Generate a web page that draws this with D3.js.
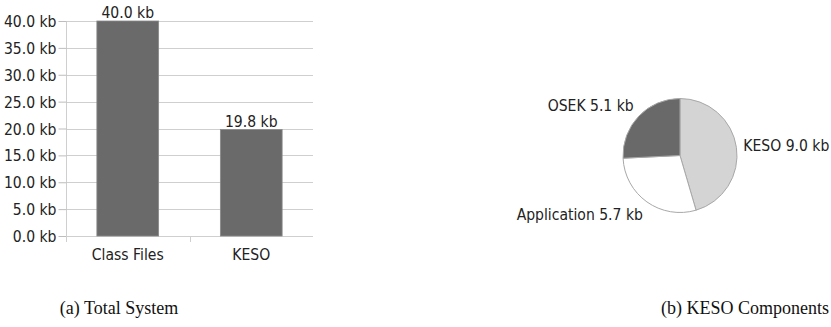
<!DOCTYPE html>
<html>
<head>
<meta charset="utf-8">
<script src="https://cdn.jsdelivr.net/npm/d3@7"></script>
<style>
  html, body { margin: 0; padding: 0; background: #fff; }
  svg { display: block; }
</style>
</head>
<body>
<svg id="chart" width="831" height="327"></svg>
<script>
// (a) total system size
const barCategories = ["Class Files", "KESO"];
const barValues = [40.0, 19.8];
const yTicks = [0, 5, 10, 15, 20, 25, 30, 35, 40];

// (b) KESO component breakdown
const pieLabels = ["KESO", "Application", "OSEK"];
const pieValues = [9.0, 5.7, 5.1];
const pieColors = ["#d4d4d4", "#ffffff", "#696969"];

const captions = ["(a) Total System", "(b) KESO Components"];

const svg = d3.select("#chart");
const sans = "DejaVu Sans, sans-serif";
const fs = 16;          // chart text size
const squeeze = 0.875;  // narrow glyph width of the chart text
const fmt = v => d3.format(".1f")(v) + " kb";

// places a text node at (x, y) with horizontally narrowed glyphs
function placeText(sel, x, y, anchor) {
  sel.attr("x", 0).attr("y", 0)
    .attr("transform", `translate(${x},${y}) scale(${squeeze},1)`)
    .attr("text-anchor", anchor)
    .attr("font-family", sans).attr("font-size", fs).attr("fill", "#222");
}

// ---- bar chart ----
const plot = { left: 66, right: 313, top: 21, bottom: 236 };
const x = d3.scaleBand().domain(barCategories).range([plot.left, plot.right]);
const y = d3.scaleLinear().domain([0, 40]).range([plot.bottom, plot.top]);
const barW = x.bandwidth() * 0.5;

const g = svg.append("g");

// horizontal grid lines
g.selectAll("line.grid").data(yTicks).join("line")
  .attr("x1", plot.left).attr("x2", plot.right)
  .attr("y1", d => Math.round(y(d)) + 0.5).attr("y2", d => Math.round(y(d)) + 0.5)
  .attr("stroke", "#cfcfcf").attr("stroke-width", 1);

// y axis
const yAxis = d3.axisLeft(y).tickValues(yTicks).tickFormat(fmt).tickSize(8);
const ya = g.append("g").attr("transform", `translate(${plot.left + 0.5},0)`).call(yAxis);
ya.select(".domain").attr("stroke", "#cfcfcf").attr("d", `M0,${plot.top}V${plot.bottom + 6}`);
ya.selectAll(".tick line").attr("stroke", "#bdbdbd");
ya.selectAll(".tick text").each(function() {
  d3.select(this).attr("dy", "0.35em").call(placeText, -10, 0, "end");
});

// x axis ticks at band boundaries
g.selectAll("line.xt").data(barCategories).join("line")
  .attr("x1", d => Math.round(x(d)) + 0.5).attr("x2", d => Math.round(x(d)) + 0.5)
  .attr("y1", plot.bottom).attr("y2", plot.bottom + 6)
  .attr("stroke", "#cfcfcf");
g.selectAll("text.xl").data(barCategories).join("text")
  .each(function(d) {
    d3.select(this).call(placeText, x(d) + x.bandwidth() / 2, plot.bottom + 24, "middle");
  })
  .text(d => d);

// bars
g.selectAll("rect.bar").data(barValues).join("rect")
  .attr("x", (d, i) => x(barCategories[i]) + (x.bandwidth() - barW) / 2)
  .attr("y", d => y(d))
  .attr("width", barW)
  .attr("height", d => y(0) - y(d))
  .attr("fill", "#6a6a6a").attr("stroke", "#8a8a8a").attr("stroke-width", 0.8);

// value labels
g.selectAll("text.val").data(barValues).join("text")
  .each(function(d, i) {
    d3.select(this).call(placeText, x(barCategories[i]) + x.bandwidth() / 2, y(d) - 3, "middle");
  })
  .text(d => fmt(d));

// ---- pie chart ----
const cx = 680, cy = 155.5, R = 57;
const pie = d3.pie().sort(null).value(d => d)(pieValues);
const arc = d3.arc().innerRadius(0).outerRadius(R);
const pg = svg.append("g").attr("transform", `translate(${cx},${cy})`);
pg.selectAll("path").data(pie).join("path")
  .attr("d", arc)
  .attr("fill", (d, i) => pieColors[i])
  .attr("stroke", "#a8a8a8").attr("stroke-width", 1);

// labels sit on an ellipse around the pie, outward of each slice's middle
const labelRx = 64, labelRy = 72;
pg.selectAll("text").data(pie).join("text")
  .each(function(d) {
    const a = (d.startAngle + d.endAngle) / 2;
    const lx = Math.sin(a) * labelRx, ly = -Math.cos(a) * labelRy;
    d3.select(this).attr("dy", "0.35em").call(placeText, lx, ly, lx < 0 ? "end" : "start");
  })
  .text((d, i) => `${pieLabels[i]} ${fmt(pieValues[i])}`);

// ---- captions ----
svg.selectAll("text.cap").data(captions).join("text")
  .attr("x", (d, i) => i === 0 ? 119 : 745)
  .attr("y", 314)
  .attr("text-anchor", "middle")
  .attr("font-family", "Liberation Serif, Times New Roman, serif")
  .attr("font-size", 18).attr("fill", "#111")
  .text(d => d);
</script>
</body>
</html>
